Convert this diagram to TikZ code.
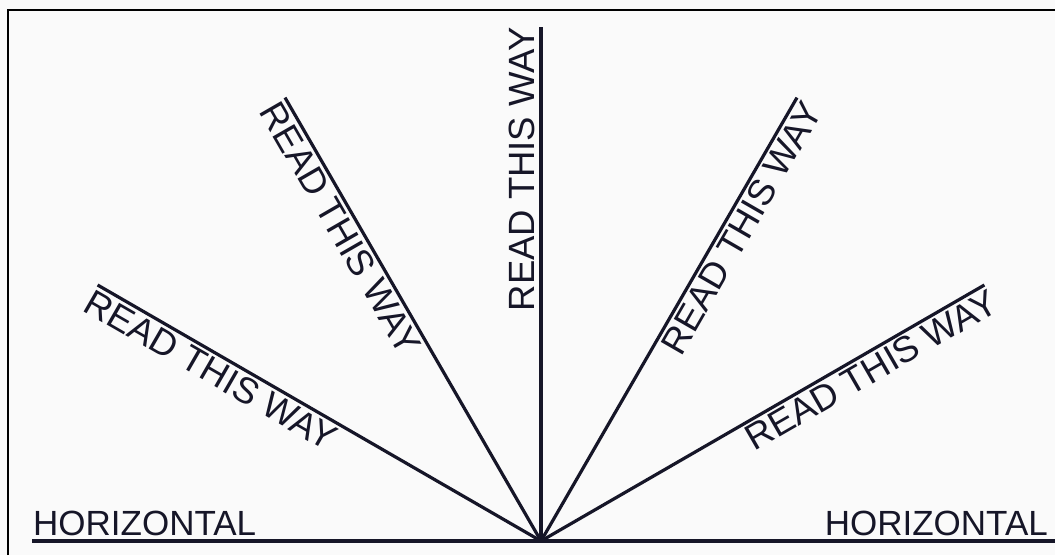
\documentclass[tikz,border=0pt]{standalone}
\usepackage{fontspec}
\setmainfont{Liberation Sans}
\definecolor{ink}{RGB}{22,22,40}
\definecolor{bg}{RGB}{250,250,250}
\tikzset{
  ray/.style={draw=ink, line width=3.2pt},
  rdw/.style={text=ink, font=\fontsize{36.5}{40}\selectfont, inner sep=2.5pt},
  hlab/.style={text=ink, font=\fontsize{35}{40}\selectfont, inner sep=0pt},
}
\begin{document}
\begin{tikzpicture}[x=1pt,y=1pt]
  \fill[bg] (0,0) rectangle (1055,555);
  \useasboundingbox (0,0) rectangle (1055,555);
  % frame (left and top only)
  \draw[black, line width=2.5pt] (8,0) -- (8,545) -- (1055,545);
  % centre and ends
  \coordinate (O) at (541,14);
  \coordinate (hl) at (32,14);
  \coordinate (hr) at (1056,14);
  \coordinate (e30) at ([shift={(30:512)}]O);
  \coordinate (e60) at ([shift={(60:512)}]O);
  \coordinate (e90) at ([shift={(90:514)}]O);
  \coordinate (e120) at ([shift={(120:512)}]O);
  \coordinate (e150) at ([shift={(150:512)}]O);
  % horizontal
  \draw[ray] (hl) -- (hr);
  \node[hlab, anchor=base west] (hL) at (33,20) {HORIZONTAL};
  \node[hlab, anchor=base east] (hR) at (1048,20) {HORIZONTAL};
  % rays with labels
  \draw[ray] (e150) -- (O) node[rdw, pos=0.275, sloped, below] (t150) {READ THIS WAY};
  \draw[ray] (e120) -- (O) node[rdw, pos=0.275, sloped, below] (t120) {READ THIS WAY};
  \draw[ray] (O) -- (e90) node[rdw, pos=0.723, sloped, above, inner sep=5pt] (t90) {READ THIS WAY};
  \draw[ray] (O) -- (e60) node[rdw, pos=0.725, sloped, below] (t60) {READ THIS WAY};
  \draw[ray] (O) -- (e30) node[rdw, pos=0.725, sloped, below] (t30) {READ THIS WAY};
\end{tikzpicture}
\end{document}
